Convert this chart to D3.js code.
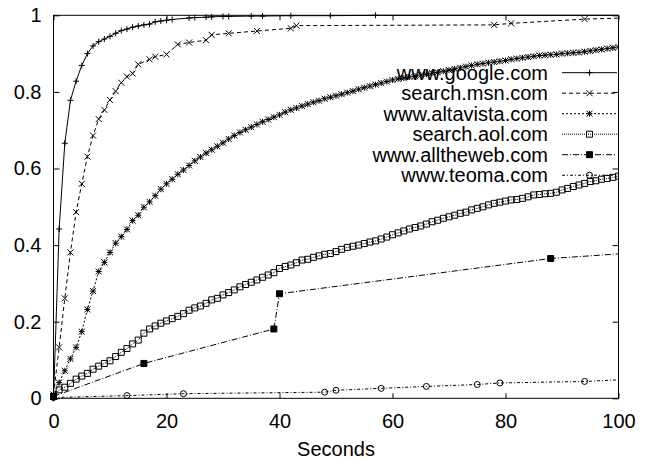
<!DOCTYPE html>
<html><head><meta charset="utf-8">
<script src="https://cdn.jsdelivr.net/npm/d3@7"></script>
<style>
html,body{margin:0;padding:0;background:#fff;}
svg{display:block;font-family:"Liberation Sans",Arial,Helvetica,sans-serif;}
</style></head>
<body>
<svg id="chart" width="647" height="460"></svg>
<script>
// ---- data ----
const xTicks = [0, 20, 40, 60, 80, 100];
const xTickLabels = ["0", "20", "40", "60", "80", "100"];
const yTicks = [0, 0.2, 0.4, 0.6, 0.8, 1];
const yTickLabels = ["0", "0.2", "0.4", "0.6", "0.8", "1"];
const xLabel = "Seconds";
const seriesNames = ["www.google.com", "search.msn.com", "www.altavista.com", "search.aol.com", "www.alltheweb.com", "www.teoma.com"];

const googleX = [0,1,2,3,4,5,6,7,8,9,10,11,12,13,14,15,16,17,18,19,20,21,24,25,27,28,30,31,35,37,42,49,57,110];
const googleY = [0.0,0.442,0.666,0.778,0.828,0.869,0.9,0.92,0.931,0.938,0.945,0.953,0.96,0.964,0.969,0.972,0.975,0.977,0.983,0.985,0.987,0.989,0.993,0.994,0.995,0.996,0.997,0.997,0.998,0.998,0.999,0.999,1.0,1.0];

const msnX = [0,1,2,3,4,5,6,7,8,9,10,11,12,13,14,15,17,18,20,22,24,27,28,31,36,42,43,78,81,94,110];
const msnY = [0.01,0.133,0.261,0.381,0.486,0.56,0.631,0.686,0.729,0.753,0.779,0.802,0.824,0.840,0.848,0.872,0.885,0.892,0.898,0.924,0.929,0.935,0.949,0.953,0.959,0.966,0.973,0.975,0.979,0.99,0.997];

// one value per second, 0..100
const altavistaY = [0.005,0.041,0.072,0.103,0.133,0.174,0.232,0.28,0.331,0.355,
  0.381,0.405,0.422,0.441,0.464,0.478,0.499,0.513,0.529,0.546,
  0.56,0.572,0.585,0.596,0.608,0.62,0.63,0.64,0.649,0.658,
  0.667,0.677,0.686,0.694,0.701,0.708,0.715,0.722,0.728,0.734,
  0.74,0.747,0.753,0.758,0.763,0.768,0.773,0.777,0.782,0.786,
  0.79,0.794,0.798,0.802,0.807,0.811,0.815,0.819,0.823,0.827,
  0.831,0.834,0.836,0.839,0.841,0.844,0.846,0.849,0.851,0.854,
  0.857,0.86,0.863,0.866,0.869,0.872,0.874,0.876,0.878,0.88,
  0.882,0.885,0.887,0.889,0.891,0.893,0.895,0.896,0.897,0.898,
  0.9,0.901,0.902,0.903,0.905,0.907,0.909,0.911,0.913,0.915,0.917];

const aolY = [0.005,0.022,0.029,0.039,0.05,0.058,0.065,0.076,0.084,0.091,
  0.098,0.109,0.12,0.13,0.142,0.152,0.17,0.181,0.189,0.196,
  0.202,0.208,0.214,0.221,0.23,0.236,0.241,0.248,0.257,0.261,
  0.27,0.276,0.283,0.291,0.297,0.303,0.309,0.316,0.322,0.328,
  0.339,0.344,0.348,0.354,0.361,0.363,0.368,0.372,0.376,0.378,
  0.383,0.389,0.394,0.397,0.4,0.404,0.408,0.411,0.416,0.421,
  0.427,0.432,0.437,0.442,0.446,0.45,0.455,0.461,0.465,0.47,
  0.474,0.478,0.483,0.486,0.492,0.496,0.5,0.505,0.509,0.512,
  0.515,0.518,0.519,0.522,0.526,0.531,0.532,0.534,0.535,0.538,
  0.544,0.548,0.553,0.557,0.561,0.566,0.568,0.572,0.574,0.577,0.58];

const alltheWebX = [0, 16, 39, 40, 88, 110];
const alltheWebY = [0.005, 0.091, 0.181, 0.273, 0.365, 0.387];

const teomaX = [0, 13, 23, 48, 50, 58, 66, 75, 79, 94, 110];
const teomaY = [0.002, 0.007, 0.012, 0.016, 0.021, 0.026, 0.031, 0.036, 0.040, 0.044, 0.055];

// ---- build ----
const secs = d3.range(altavistaY.length);
const zip = (xs, ys) => xs.map((v, i) => [v, ys[i]]);
const series = [
  {name: seriesNames[0], data: zip(googleX, googleY), dash: null, marker: "plus"},
  {name: seriesNames[1], data: zip(msnX, msnY), dash: "4,3", marker: "cross"},
  {name: seriesNames[2], data: zip(secs, altavistaY), dash: "2,2", marker: "star"},
  {name: seriesNames[3], data: zip(secs, aolY), dash: "1,1", marker: "square"},
  {name: seriesNames[4], data: zip(alltheWebX, alltheWebY), dash: "6,2,1,2", marker: "fsquare"},
  {name: seriesNames[5], data: zip(teomaX, teomaY), dash: "3,2,1,2", marker: "circle"}
];

const svg = d3.select("#chart");
const x = d3.scaleLinear().domain([0, 100]).range([53.5, 618.5]);
const y = d3.scaleLinear().domain([0, 1]).range([398.3, 15.3]);
const fs = 20;

svg.append("defs").append("clipPath").attr("id", "clip")
  .append("rect").attr("x", x(0) - 4).attr("y", y(1) - 4)
  .attr("width", x(100) - x(0) + 4).attr("height", y(0) - y(1) + 8);

function markerPath(t) {
  const r = 3;
  switch (t) {
    case "plus": return `M${-r},0H${r}M0,${-r}V${r}`;
    case "cross": return `M${-r},${-r}L${r},${r}M${-r},${r}L${r},${-r}`;
    case "star": return `M${-r},0H${r}M0,${-r}V${r}M${-r},${-r}L${r},${r}M${-r},${r}L${r},${-r}`;
    case "square": return `M${-r},${-r}H${r}V${r}H${-r}Z`;
    case "fsquare": return `M${-r},${-r}H${r}V${r}H${-r}Z`;
    case "circle": return `M${r},0A${r},${r} 0 1,1 ${-r},0A${r},${r} 0 1,1 ${r},0Z`;
  }
}
function styleMarker(sel, t) {
  sel.attr("d", markerPath(t))
    .attr("fill", t === "fsquare" ? "#000" : (t === "square" || t === "circle") ? "none" : "none")
    .attr("stroke", "#000").attr("stroke-width", 1);
}

// axes (inward ticks, mirrored)
const gx = svg.append("g").attr("transform", `translate(0,${y(0)})`)
  .call(d3.axisBottom(x).tickValues(xTicks).tickFormat((d, i) => xTickLabels[i])
    .tickSizeInner(-5).tickSizeOuter(0).tickPadding(16));
const gy = svg.append("g").attr("transform", `translate(${x(0)},0)`)
  .call(d3.axisLeft(y).tickValues(yTicks).tickFormat((d, i) => yTickLabels[i])
    .tickSizeInner(-6).tickSizeOuter(0).tickPadding(12));
const gt = svg.append("g").attr("transform", `translate(0,${y(1)})`)
  .call(d3.axisTop(x).tickValues(xTicks).tickFormat("").tickSizeInner(-5).tickSizeOuter(0));
const gr = svg.append("g").attr("transform", `translate(${x(100)},0)`)
  .call(d3.axisRight(y).tickValues(yTicks).tickFormat("").tickSizeInner(-6).tickSizeOuter(0));
[gx, gy, gt, gr].forEach(g => {
  g.select(".domain").remove();
  g.selectAll("line").attr("stroke", "#000");
  g.selectAll("text").attr("font-size", fs).attr("fill", "#000")
    .attr("font-family", '"Liberation Sans",Arial,sans-serif');
});

// frame
svg.append("rect").attr("x", x(0)).attr("y", y(1)).attr("width", x(100) - x(0))
  .attr("height", y(0) - y(1)).attr("fill", "none").attr("stroke", "#000").attr("stroke-width", 1);

svg.append("text").attr("x", (x(0) + x(100)) / 2).attr("y", 456)
  .attr("text-anchor", "middle").attr("font-size", fs).text(xLabel);

// series
const line = d3.line().x(d => x(d[0])).y(d => y(d[1]));
const plot = svg.append("g").attr("clip-path", "url(#clip)");
series.forEach(s => {
  plot.append("path").datum(s.data).attr("d", line)
    .attr("fill", "none").attr("stroke", "#000").attr("stroke-width", 1)
    .attr("stroke-dasharray", s.dash);
  plot.selectAll(null).data(s.data.filter(d => d[0] <= 100)).enter().append("path")
    .attr("transform", d => `translate(${x(d[0])},${y(d[1])})`)
    .call(styleMarker, s.marker);
});

// legend
const leg = svg.append("g");
series.forEach((s, i) => {
  const cy = 72.7 + i * 20.5;
  leg.append("text").attr("x", 548).attr("y", cy + 7).attr("text-anchor", "end")
    .attr("font-size", fs).text(s.name);
  leg.append("line").attr("x1", 562).attr("x2", 617).attr("y1", cy).attr("y2", cy)
    .attr("stroke", "#000").attr("stroke-width", 1).attr("stroke-dasharray", s.dash);
  leg.append("path").attr("transform", `translate(589.5,${cy})`).call(styleMarker, s.marker);
});
</script>
</body></html>
